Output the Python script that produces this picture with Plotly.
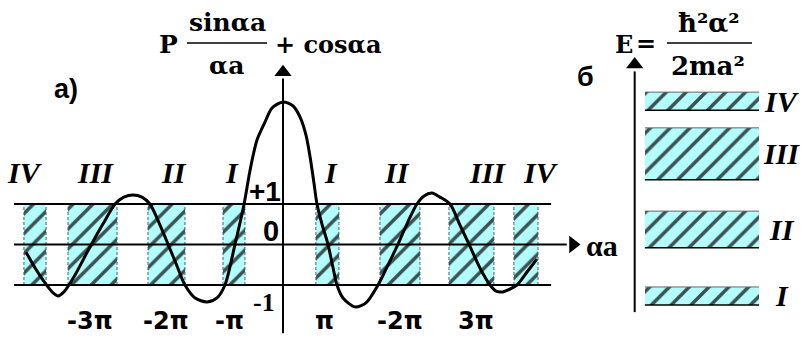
import plotly.graph_objects as go

W, H = 804, 340

# P*sin(αa)/αa + cos(αa) traced along αa
alpha_a = [-11.95, -11.53, -11.07, -10.74, -10.47, -10.19, -9.67, -8.98, -8.37, -7.81,
           -7.40, -6.98, -6.56, -6.19, -5.72, -5.35, -4.93, -4.56, -4.09, -3.53,
           -3.07, -2.70, -2.23, -1.81, -1.53, -1.21, -0.84, -0.51, 0.0, 0.47,
           0.79, 1.07, 1.26, 1.44, 1.58, 1.81, 2.09, 2.33, 2.51, 2.79,
           3.35, 3.86, 4.42, 4.88, 5.35, 5.81, 6.23, 6.56, 6.93, 7.30,
           7.77, 8.23, 8.65, 9.16, 9.63, 9.91, 10.23, 10.56, 10.88, 11.35, 11.81]
f_vals = [-0.19, -0.58, -0.95, -1.17, -1.27, -1.17, -0.75, -0.06, 0.51, 1.00,
          1.17, 1.22, 1.17, 1.00, 0.48, 0.01, -0.53, -1.00, -1.32, -1.42,
          -1.32, -1.00, 0.01, 1.00, 1.84, 2.58, 3.02, 3.37, 3.52, 3.42,
          3.15, 2.70, 2.16, 1.52, 1.00, 0.51, 0.01, -0.58, -1.00, -1.32,
          -1.54, -1.44, -1.00, -0.51, 0.01, 0.56, 1.00, 1.20, 1.27, 1.17,
          1.00, 0.48, 0.01, -0.58, -1.00, -1.15, -1.17, -1.10, -1.00, -0.68, -0.36]

# allowed bands on the αa axis (|f| <= 1)
band_lo = [-12.05, -10.00, -6.28, -2.79, 1.53, 4.51, 7.72, 10.74]
band_hi = [-11.02, -7.72, -4.56, -1.77, 2.60, 6.37, 9.81, 11.86]
band_names = ["IV", "III", "II", "I", "I", "II", "III", "IV"]
band_label_x = [-12.0, -8.74, -5.07, -2.37, 2.23, 5.30, 9.49, 12.0]

tick_pos = [-8.98, -5.44, -2.51, 1.91, 5.44, 8.98]
tick_text = ["-3π", "-2π", "-π", "π", "-2π", "3π"]

level_vals = [1, 0, -1]
level_text = ["+1", "0", "-1"]

# energy bands E = ħ²α²/2ma²
energy_lo = [1.03, 2.71, 4.71, 6.76]
energy_hi = [1.56, 3.79, 6.24, 7.29]
energy_names = ["I", "II", "III", "IV"]

CYAN = "#b3fdfd"
STRIPE = "#1c2424"
pattern = dict(shape="/", fgcolor=STRIPE, fgopacity=0.8, size=14, solidity=0.25, fillmode="overlay")

fig = go.Figure()

# hatched allowed bands, left panel
for lo, hi in zip(band_lo, band_hi):
    fig.add_trace(go.Bar(x=[(lo + hi) / 2], y=[level_vals[0] - level_vals[2]], base=level_vals[2],
                         width=[hi - lo], marker=dict(color=CYAN, pattern=pattern, line=dict(width=0)),
                         hoverinfo="skip"))

# dashed band edges
ex, ey = [], []
for lo, hi in zip(band_lo, band_hi):
    for e in (lo, hi):
        ex += [e, e, None]
        ey += [level_vals[2], level_vals[0], None]
fig.add_trace(go.Scatter(x=ex, y=ey, mode="lines", line=dict(color="#3d6b6b", width=1, dash="3px,2px"),
                         hoverinfo="skip"))

# reference levels +1 and -1
x_left, x_right = -12.51, 12.47
for lv in (level_vals[0], level_vals[2]):
    fig.add_trace(go.Scatter(x=[x_left, x_right], y=[lv, lv], mode="lines",
                             line=dict(color="black", width=2), hoverinfo="skip"))
# αa axis with arrow
fig.add_trace(go.Scatter(x=[x_left, 13.2], y=[0, 0], mode="lines",
                         line=dict(color="black", width=2), hoverinfo="skip"))
fig.add_trace(go.Scatter(x=[13.49], y=[0], mode="markers",
                         marker=dict(symbol="triangle-right", size=15, color="black"), hoverinfo="skip"))
# vertical axis with arrow
fig.add_trace(go.Scatter(x=[0, 0], y=[-2.19, 4.1], mode="lines",
                         line=dict(color="black", width=2), hoverinfo="skip"))
fig.add_trace(go.Scatter(x=[0], y=[4.25], mode="markers",
                         marker=dict(symbol="triangle-up", size=15, color="black"), hoverinfo="skip"))

# the curve
fig.add_trace(go.Scatter(x=alpha_a, y=f_vals, mode="lines",
                         line=dict(color="black", width=3, shape="spline", smoothing=0.8),
                         hoverinfo="skip"))

# right panel: energy bands
bx0, bx1 = 0.22, 0.78
for lo, hi in zip(energy_lo, energy_hi):
    fig.add_trace(go.Bar(orientation="h", y=[(lo + hi) / 2], x=[bx1 - bx0], base=bx0,
                         width=[hi - lo], marker=dict(color=CYAN, pattern=pattern, line=dict(width=0)),
                         xaxis="x2", yaxis="y2", hoverinfo="skip"))
    fig.add_trace(go.Scatter(x=[bx0, bx1], y=[lo, lo], mode="lines", line=dict(color="black", width=1.5),
                             xaxis="x2", yaxis="y2", hoverinfo="skip"))
    fig.add_trace(go.Scatter(x=[bx0, bx1], y=[hi, hi], mode="lines", line=dict(color="#666", width=1),
                             xaxis="x2", yaxis="y2", hoverinfo="skip"))
# energy axis
fig.add_trace(go.Scatter(x=[0.17, 0.17], y=[0.82, 7.9], mode="lines", line=dict(color="black", width=2),
                         xaxis="x2", yaxis="y2", hoverinfo="skip"))
fig.add_trace(go.Scatter(x=[0.17], y=[8.1], mode="markers",
                         marker=dict(symbol="triangle-up", size=15, color="black"),
                         xaxis="x2", yaxis="y2", hoverinfo="skip"))

ann = []
SERIF = "DejaVu Serif"
SANS = "Liberation Sans"
NUM = dict(family="Liberation Serif", size=30, color="black")


def ptxt(px, py, text, font, xanchor="center"):
    ann.append(dict(x=px / W, y=1 - py / H, xref="paper", yref="paper", text=text, showarrow=False,
                    xanchor=xanchor, yanchor="middle", font=font))


# band numerals above the left panel
for xv, name in zip(band_label_x, band_names):
    ann.append(dict(x=xv, y=1.77, xref="x", yref="y", text=f"<b><i>{name}</i></b>", showarrow=False,
                    xanchor="center", yanchor="middle", font=NUM))
# αa tick labels
for xv, t in zip(tick_pos, tick_text):
    ann.append(dict(x=xv, y=-1.89, xref="x", yref="y", text=f"<b>{t}</b>", showarrow=False,
                    xanchor="center", yanchor="middle", font=dict(family="DejaVu Sans", size=24, color="black")))
# level labels
lvl_pos = [(-0.84, 1.32), (-0.56, 0.33), (-0.88, -1.44)]
lvl_font = [dict(family=SANS, size=28, color="black"), dict(family=SANS, size=29, color="black"),
            dict(family="Liberation Serif", size=26, color="black")]
for (xv, yv), t, fnt in zip(lvl_pos, level_text, lvl_font):
    ann.append(dict(x=xv, y=yv, xref="x", yref="y", text=f"<b>{t}</b>", showarrow=False,
                    xanchor="center", yanchor="middle", font=fnt))
# energy band numerals
for lo, hi, name in zip(energy_lo, energy_hi, energy_names):
    ann.append(dict(x=0.89, y=(lo + hi) / 2, xref="x2", yref="y2", text=f"<b><i>{name}</i></b>",
                    showarrow=False, xanchor="center", yanchor="middle", font=NUM))

# formula for the left panel
TF = dict(family=SERIF, size=25, color="black")
ptxt(168, 45, "<b>P</b>", dict(family=SERIF, size=25, color="black"))
ptxt(227, 23, "<b>sinαa</b>", TF)
ptxt(226, 66, "<b>αa</b>", TF)
ptxt(273, 45, "<b>+ cosαa</b>", dict(family=SERIF, size=24, color="black"), xanchor="left")
ptxt(66, 89, "<b>a)</b>", dict(family=SANS, size=27, color="black"))
ptxt(602, 245, "<b>αa</b>", dict(family="Liberation Serif", size=30, color="black"))

# formula for the right panel
ptxt(624, 45, "<b>E</b>", dict(family=SERIF, size=24, color="black"))
ptxt(646, 43, "<b>=</b>", dict(family=SERIF, size=24, color="black"))
ptxt(709, 23, "<b>ħ²α²</b>", dict(family=SERIF, size=26, color="black"))
ptxt(708, 66, "<b>2ma²</b>", dict(family=SERIF, size=26, color="black"))
ptxt(585, 77, "<b>б</b>", dict(family=SANS, size=27, color="black"))

shapes = [
    dict(type="line", xref="paper", yref="paper", x0=187 / W, x1=267 / W, y0=1 - 43 / H, y1=1 - 43 / H,
         line=dict(color="black", width=1.5)),
    dict(type="line", xref="paper", yref="paper", x0=667 / W, x1=752 / W, y0=1 - 43 / H, y1=1 - 43 / H,
         line=dict(color="black", width=1.5)),
]

fig.update_layout(
    width=W, height=H, margin=dict(l=0, r=0, t=0, b=0),
    paper_bgcolor="white", plot_bgcolor="rgba(0,0,0,0)",
    showlegend=False, barmode="overlay", bargap=0,
    xaxis=dict(domain=[0, 1], range=[-13.163, 24.233], visible=False, fixedrange=True),
    yaxis=dict(domain=[0, 1], range=[-2.358, 6.037], visible=False, fixedrange=True),
    xaxis2=dict(domain=[600 / W, 1], range=[0, 1], visible=False, anchor="y2", fixedrange=True),
    yaxis2=dict(domain=[0, 1], range=[0, 10], visible=False, anchor="x2", fixedrange=True),
    annotations=ann, shapes=shapes,
)

fig.write_html("out.html")
